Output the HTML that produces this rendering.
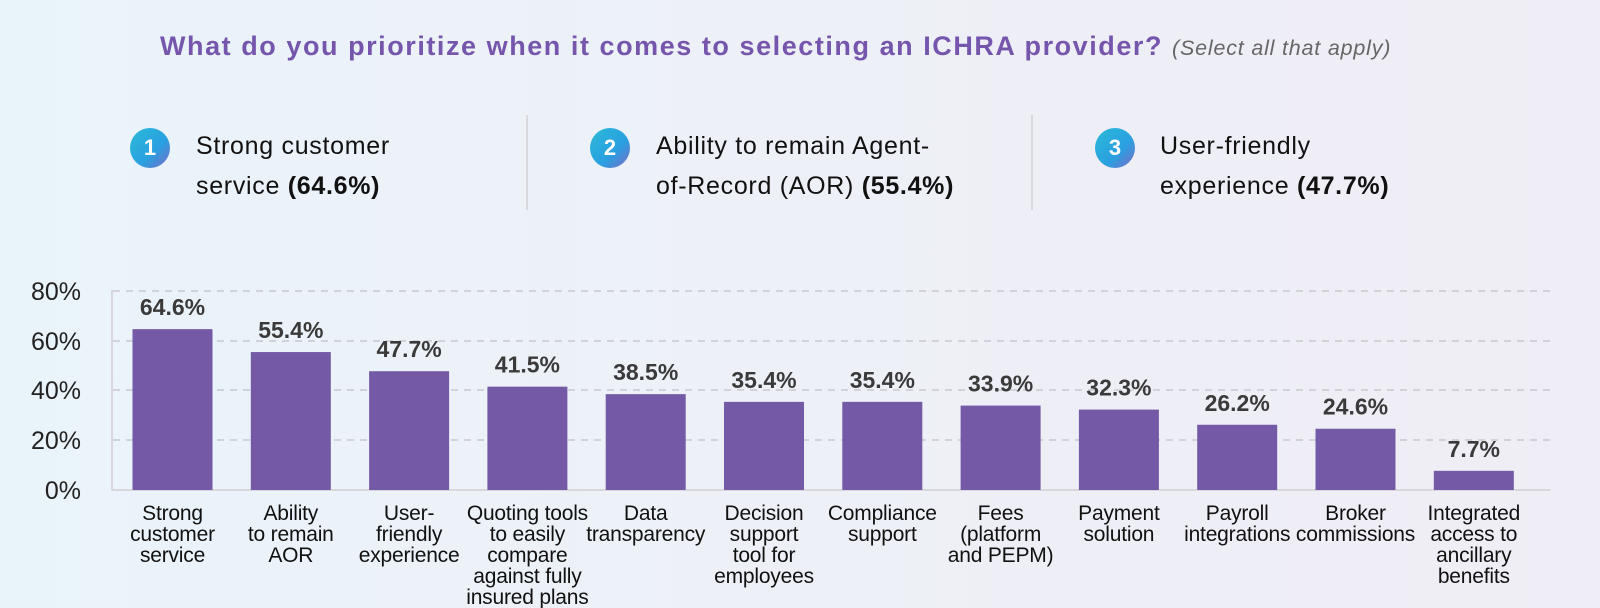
<!DOCTYPE html>
<html><head><meta charset="utf-8"><style>
body{margin:0;width:1600px;height:608px;overflow:hidden;background:linear-gradient(90deg,#e9f4fa 0%,#eef0f7 50%,#efedf5 100%);font-family:"Liberation Sans",sans-serif;}
.t{position:absolute;white-space:nowrap}
.badge{position:absolute;width:40px;height:40px;border-radius:50%;background:linear-gradient(135deg,#2bbbd8,#2a9fe0 60%,#7a6cc8);color:#fff;font-weight:bold;font-size:22px;text-align:center;line-height:40px}
.h{font-size:25px;letter-spacing:0.7px;color:#111;line-height:40px}
.div{position:absolute;width:2px;background:#d8d8de;top:115px;height:95px}
</style></head><body>
<div class="t" style="left:160px;top:31px;font-size:27px;letter-spacing:1.55px;font-weight:bold;color:#7656ad">What do you prioritize when it comes to selecting an ICHRA provider? <span style="font-weight:normal;font-style:italic;font-size:21.5px;letter-spacing:0.8px;color:#666">(Select all that apply)</span></div>
<div class="badge" style="left:130px;top:128px">1</div>
<div class="t h" style="left:196px;top:126px">Strong customer<br>service <b>(64.6%)</b></div>
<div class="div" style="left:526px"></div>
<div class="badge" style="left:590px;top:128px">2</div>
<div class="t h" style="left:656px;top:126px">Ability to remain Agent-<br>of-Record (AOR) <b>(55.4%)</b></div>
<div class="div" style="left:1031px"></div>
<div class="badge" style="left:1095px;top:128px">3</div>
<div class="t h" style="left:1160px;top:126px">User-friendly<br>experience <b>(47.7%)</b></div>
<svg width="1600" height="608" style="position:absolute;left:0;top:0" font-family="Liberation Sans, sans-serif">
<g stroke="#c8c8d0" stroke-width="1.5" stroke-dasharray="7,6">
<line x1="113" y1="291" x2="1550" y2="291"/><line x1="113" y1="341" x2="1550" y2="341"/><line x1="113" y1="390" x2="1550" y2="390"/><line x1="113" y1="440" x2="1550" y2="440"/>
</g>
<line x1="112" y1="290" x2="112" y2="491" stroke="#d8d8dc" stroke-width="2"/>
<line x1="112" y1="490" x2="1550" y2="490" stroke="#d8d8dc" stroke-width="2"/>
<g font-size="25" fill="#222" text-anchor="end">
<text x="81" y="300">80%</text><text x="81" y="350">60%</text><text x="81" y="399">40%</text><text x="81" y="449">20%</text><text x="81" y="499">0%</text>
</g>
<g id="bars" fill="#745aa6"></g>
<g id="lbl" font-size="23" font-weight="bold" fill="#3a3a3a" text-anchor="middle"></g>
<g id="xl" font-size="21" letter-spacing="-0.2" fill="#111" text-anchor="middle"></g>
</svg>
<script>
var v=[64.6,55.4,47.7,41.5,38.5,35.4,35.4,33.9,32.3,26.2,24.6,7.7];
var n=[["Strong","customer","service"],["Ability","to remain","AOR"],["User-","friendly","experience"],["Quoting tools","to easily","compare","against fully","insured plans"],["Data","transparency"],["Decision","support","tool for","employees"],["Compliance","support"],["Fees","(platform","and PEPM)"],["Payment","solution"],["Payroll","integrations"],["Broker","commissions"],["Integrated","access to","ancillary","benefits"]];
var NS="http://www.w3.org/2000/svg",b=document.getElementById("bars"),l=document.getElementById("lbl"),x=document.getElementById("xl");
for(var i=0;i<12;i++){var c=172.5+i*118.3,h=v[i]*2.49,y=490-h;
var r=document.createElementNS(NS,"rect");r.setAttribute("x",c-40);r.setAttribute("y",y);r.setAttribute("width",80);r.setAttribute("height",h);b.appendChild(r);
var t=document.createElementNS(NS,"text");t.setAttribute("x",c);t.setAttribute("y",y-14);t.textContent=v[i]+"%";l.appendChild(t);
for(var j=0;j<n[i].length;j++){var u=document.createElementNS(NS,"text");u.setAttribute("x",c);u.setAttribute("y",520+j*21);u.textContent=n[i][j];x.appendChild(u);}}
</script>
</body></html>
